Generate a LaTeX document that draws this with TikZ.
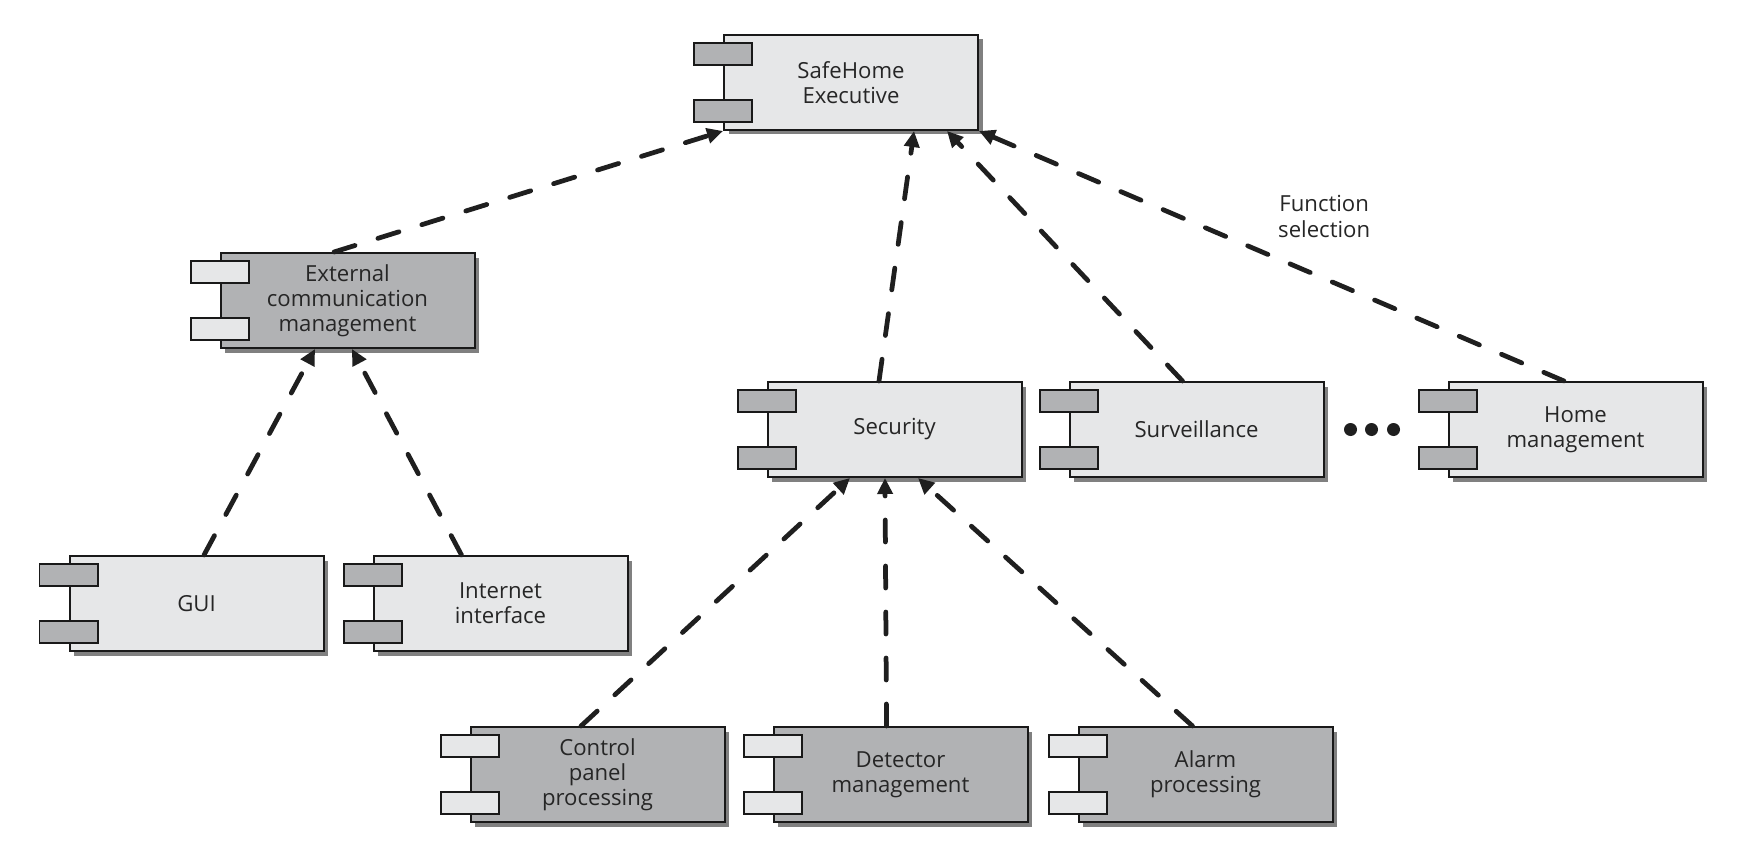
\documentclass[tikz,border=0pt]{standalone}
\usepackage{fontspec}
\setmainfont{Open Sans}
\usepackage{tikz}
\usetikzlibrary{arrows.meta, positioning, calc, shadows}
\definecolor{boxlight}{HTML}{E6E7E8}
\definecolor{boxdark}{HTML}{B1B2B4}
\tikzset{
    comp/.style={rectangle, draw=black!90, line width=0.04cm, minimum width=5.08cm, minimum height=1.9cm, text width=4.6cm, align=center, text=black!85, font=\fontsize{12.6}{14.3}\selectfont, general shadow={fill=black!50, shadow xshift=0.09cm, shadow yshift=-0.09cm}},
    lightcomp/.style={comp, fill=boxlight},
    darkcomp/.style={comp, fill=boxdark},
    comptab/.style={draw=black!90, line width=0.04cm},
    dependency/.style={-{Triangle[length=0.32cm, width=0.3cm]}, line width=0.095cm, line cap=round, dash pattern=on 0.44cm off 0.48cm, black!88},
    notelabel/.style={align=center, text=black!85, font=\fontsize{12.6}{14.3}\selectfont}
}
\newcommand{\comptabs}[2]{%
  \foreach \dy in {0.57,-0.57}
    \draw[comptab, fill=#2] ($(#1.west)+(-0.58,\dy-0.22)$) rectangle ($(#1.west)+(0.58,\dy+0.22)$);
}

\begin{document}
\begin{tikzpicture}
  \useasboundingbox (0,0) rectangle (34.88,-17.32);
  \node[lightcomp] (exec) at (17.02,-1.65) {SafeHome\\Executive};
  \node[darkcomp, below=2.42cm of exec, xshift=-10.07cm] (ecm) {External\\communication\\management};
  \node[lightcomp, below=5.0cm of exec, xshift=0.87cm] (sec) {Security};
  \node[lightcomp, right=0.92cm of sec] (surv) {Surveillance};
  \node[lightcomp, right=2.46cm of surv] (home) {Home\\management};
  \node[lightcomp, below=4.12cm of ecm, xshift=-3.02cm] (gui) {GUI};
  \node[lightcomp, right=0.96cm of gui] (inet) {Internet\\interface};
  \node[darkcomp, below=4.96cm of sec, xshift=-5.94cm] (cpp) {Control\\panel\\processing};
  \node[darkcomp, right=0.94cm of cpp] (det) {Detector\\management};
  \node[darkcomp, right=0.98cm of det] (alarm) {Alarm\\processing};
  \comptabs{exec}{boxdark}
  \comptabs{ecm}{boxlight}
  \comptabs{sec}{boxdark}
  \comptabs{surv}{boxdark}
  \comptabs{home}{boxdark}
  \comptabs{gui}{boxdark}
  \comptabs{inet}{boxdark}
  \comptabs{cpp}{boxlight}
  \comptabs{det}{boxlight}
  \comptabs{alarm}{boxlight}
  \foreach \dx in {0.52,0.94,1.38}
    \fill[black!88] ($(surv.east)+(\dx,0)$) circle (0.13cm);
  \draw[dependency] ([xshift=-0.27cm]ecm.north) -- (exec.south west);
  \draw[dependency] ([xshift=-0.31cm]sec.north) -- ([xshift=1.26cm]exec.south);
  \draw[dependency] ([xshift=-0.28cm]surv.north) -- ([xshift=1.92cm]exec.south);
  \draw[dependency] ([xshift=-0.23cm]home.north) -- node[notelabel, pos=0.41, yshift=1.24cm]{Function\\selection} (exec.south east);
  \draw[dependency] ([xshift=0.15cm]gui.north) -- ([xshift=-0.65cm]ecm.south);
  \draw[dependency] ([xshift=-0.78cm]inet.north) -- ([xshift=0.09cm]ecm.south);
  \draw[dependency] ([xshift=-0.33cm]cpp.north) -- ([xshift=-0.89cm]sec.south);
  \draw[dependency] ([xshift=-0.28cm]det.north) -- ([xshift=-0.19cm]sec.south);
  \draw[dependency] ([xshift=-0.26cm]alarm.north) -- ([xshift=0.47cm]sec.south);
\end{tikzpicture}
\end{document}
